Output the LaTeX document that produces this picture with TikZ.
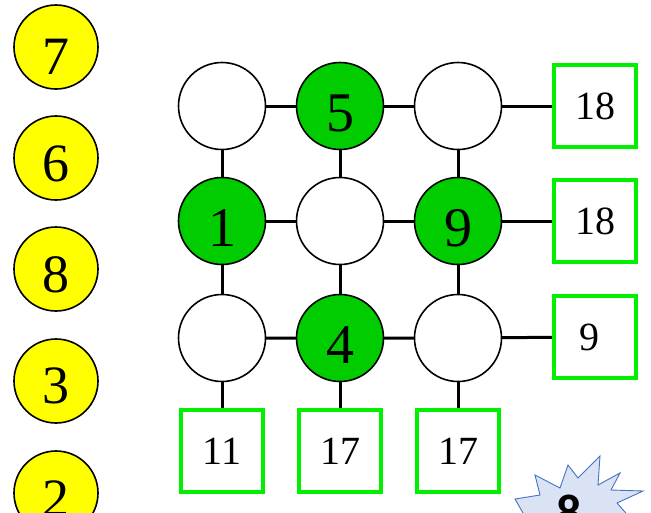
\documentclass[tikz,border=0pt]{standalone}
\usepackage{fontspec}
\setmainfont{Liberation Serif}
\newfontfamily\starfont{Carlito}
\definecolor{cgreen}{RGB}{0,204,0}
\definecolor{bgreen}{RGB}{0,240,0}
\definecolor{cyel}{RGB}{255,255,0}
\definecolor{starline}{RGB}{68,114,196}
\definecolor{starfill}{RGB}{218,227,243}
\newcommand{\lowd}[2][7pt]{\raisebox{-#1}[\height][0pt]{#2}}
\tikzset{
  cell/.style={circle,draw=black,line width=1.6pt,minimum size=87pt,inner sep=0pt,fill=white,font=\fontsize{56}{56}\selectfont},
  full/.style={cell,fill=cgreen},
  yel/.style={circle,draw=black,line width=1.6pt,minimum size=84pt,inner sep=0pt,fill=cyel,font=\fontsize{54}{54}\selectfont},
  sumbox/.style={rectangle,draw=bgreen,line width=3.5pt,minimum size=82pt,inner sep=0pt,fill=white,font=\fontsize{40}{40}\selectfont},
  link/.style={line width=3pt,black}
}
\begin{document}
\begin{tikzpicture}[x=1pt,y=-1pt]
\useasboundingbox (0,0) rectangle (651,512);
% yellow discs
\node[yel] (y7) at (56,47) {\lowd[10pt]{7}};
\node[yel] (y6) at (56,158) {\lowd[6pt]{6}};
\node[yel] (y8) at (56,269) {\lowd[6pt]{8}};
\node[yel] (y3) at (56,381) {\lowd[5pt]{3}};
\node[yel] (y2) at (56,493) {\lowd[6pt]{2}};
% grid positions
\coordinate (p11) at (222,106); \coordinate (p12) at (340,106); \coordinate (p13) at (458,106);
\coordinate (p21) at (222,221); \coordinate (p22) at (340,221); \coordinate (p23) at (458,221);
\coordinate (p31) at (222,338); \coordinate (p32) at (340,338); \coordinate (p33) at (458,338);
\coordinate (pr1) at (595,106); \coordinate (pr2) at (595,221); \coordinate (pr3) at (595,337);
\coordinate (pb1) at (222,451); \coordinate (pb2) at (340,451); \coordinate (pb3) at (458,451);
\draw[link] (p11) -- (p12) -- (p13) -- (pr1);
\draw[link] (p21) -- (p22) -- (p23) -- (pr2);
\draw[link] (p31) -- (p32) -- (p33) -- (pr3);
\draw[link] (p11) -- (p21) -- (p31) -- (pb1);
\draw[link] (p12) -- (p22) -- (p32) -- (pb2);
\draw[link] (p13) -- (p23) -- (p33) -- (pb3);
% grid cells
\node[cell] (c11) at (p11) {};
\node[full] (c12) at (p12) {\lowd{5}};
\node[cell] (c13) at (p13) {};
\node[full] (c21) at (p21) {\lowd{1}};
\node[cell] (c22) at (p22) {};
\node[full] (c23) at (p23) {\lowd{9}};
\node[cell] (c31) at (p31) {};
\node[full] (c32) at (p32) {\lowd{4}};
\node[cell] (c33) at (p33) {};
% sums
\node[sumbox] (r1) at (pr1) {18};
\node[sumbox] (r2) at (pr2) {18};
\node[sumbox] (r3) at (pr3) {\hspace*{-12pt}9};
\node[sumbox] (b1) at (pb1) {11};
\node[sumbox] (b2) at (pb2) {17};
\node[sumbox] (b3) at (pb3) {17};
% star
\begin{scope}
\clip (0,0) rectangle (651,512);
\draw[starline,fill=starfill,line width=0.9pt,line join=miter]
  (527,520) -- (515,499) -- (540,495) -- (535,475) -- (560,488) -- (568,465) -- (578,478)
  -- (600,456) -- (598,485) -- (620,473) -- (611,490) -- (643,491) -- (617,503) -- (632,520) -- cycle;
\node[font=\starfont\bfseries\fontsize{50}{50}\selectfont,anchor=north,inner sep=0pt] (st) at (569,495) {8};
\end{scope}
\end{tikzpicture}
\end{document}
